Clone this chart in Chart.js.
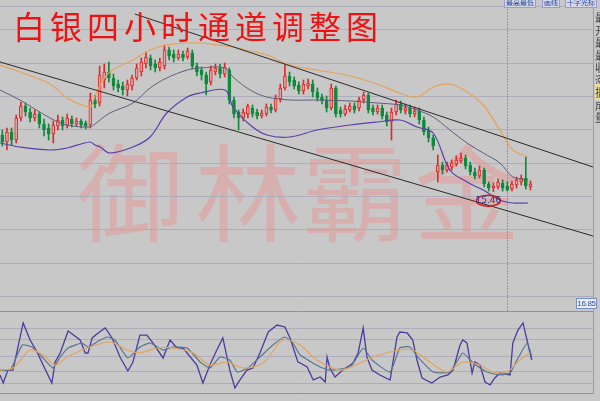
<!DOCTYPE html>
<html>
<head>
<meta charset="utf-8">
<script src="https://cdn.jsdelivr.net/npm/chart.js@4.4.1/dist/chart.umd.min.js"></script>
<style>
  body { margin: 0; background: #c8c8c8; }
  #wrap { position: relative; width: 600px; height: 401px; overflow: hidden; background: #c8c8c8; font-family: "Noto Sans CJK SC", sans-serif; }
  canvas { position: absolute; left: 0; }
  #priceChart { top: 0; z-index: 1; }
  #kdjChart { top: 305px; z-index: 1; }
  .wm { position: absolute; top: 134px; width: 106px; height: 106px; line-height: 106px; font-size: 106px; text-align: center; color: rgba(240, 130, 130, 0.36); z-index: 0; }
  #title { position: absolute; left: 13px; top: 9px; font-size: 32px; line-height: 32px; letter-spacing: 5px; color: #f01212; z-index: 2; white-space: nowrap; }
  .btn { position: absolute; top: -3px; height: 9px; font-size: 7px; line-height: 9px; color: #2a4aa0; border: 1px solid #9a9ad0; background: #d4d6e6; padding: 0 1px; z-index: 2; white-space: nowrap; }
  #priceTag { position: absolute; left: 576px; top: 298px; width: 19px; height: 9px; font-family: "Liberation Sans", sans-serif; font-size: 8px; line-height: 9px; text-align: center; color: #2850a8; background: #e8eef8; border: 1px solid #7c90c8; z-index: 2; letter-spacing: -0.3px; }
  #side { position: absolute; left: 595px; top: 11px; width: 5px; overflow: hidden; font-size: 11px; line-height: 12.5px; color: #444; z-index: 2; }
</style>
</head>
<body>
<div id="wrap">
  <span class="wm" style="left:77px">御</span>
  <span class="wm" style="left:195px">林</span>
  <span class="wm" style="left:302px">霸</span>
  <span class="wm" style="left:414px">金</span>
  <canvas id="priceChart" width="600" height="311"></canvas>
  <canvas id="kdjChart" width="600" height="96"></canvas>
  <div id="title">白银四小时通道调整图</div>
  <span class="btn" style="left:504px">最高最低</span>
  <span class="btn" style="left:542px">画线</span>
  <span class="btn" style="left:565px">十字光标</span>
  <div id="priceTag">16.85</div>
  <div id="side">最<br>开<br>最<br>最<br>收<br>涨<br><span style="background:#f0e08a">振</span><br>成<br>量</div>
</div>
<script>
// 4-hour silver candles
const candleOpen = [
  15.80, 15.758, 15.818, 15.77, 15.902, 15.974, 15.938, 15.902, 15.926, 15.866,
  15.842, 15.806, 15.854, 15.89, 15.854, 15.896, 15.866, 15.884, 15.872, 15.86,
  16.01, 15.992, 16.13, 16.178, 16.142, 16.106, 16.094, 16.07, 16.094, 16.142,
  16.178, 16.226, 16.262, 16.226, 16.202, 16.214, 16.31, 16.286, 16.262, 16.286,
  16.268, 16.292, 16.214, 16.19, 16.16, 16.118, 16.178, 16.202, 16.166, 16.19,
  16.01, 15.938, 15.902, 15.926, 15.962, 15.938, 15.914, 15.926, 15.968, 15.95,
  16.016, 16.082, 16.154, 16.13, 16.10, 16.064, 16.094, 16.106, 16.058, 16.028,
  16.01, 15.962, 16.082, 15.95, 15.926, 15.95, 15.974, 15.962, 16.01, 16.04,
  15.962, 15.938, 15.962, 15.92, 15.878, 15.938, 15.986, 15.944, 15.962, 15.926,
  15.944, 15.89, 15.83, 15.782, 15.578, 15.62, 15.59, 15.608, 15.626, 15.644,
  15.662, 15.62, 15.578, 15.554, 15.59, 15.506, 15.482, 15.488, 15.512, 15.494,
  15.476, 15.50, 15.518, 15.542, 15.488
];
const candleClose = [
  15.758, 15.818, 15.77, 15.902, 15.974, 15.938, 15.902, 15.926, 15.866, 15.83,
  15.806, 15.86, 15.89, 15.854, 15.902, 15.866, 15.884, 15.86, 15.854, 16.01,
  15.986, 16.16, 16.178, 16.142, 16.094, 16.082, 16.07, 16.106, 16.142, 16.202,
  16.238, 16.268, 16.214, 16.202, 16.238, 16.31, 16.274, 16.262, 16.286, 16.262,
  16.304, 16.214, 16.178, 16.16, 16.106, 16.19, 16.202, 16.166, 16.208, 16.01,
  15.926, 15.902, 15.938, 15.974, 15.926, 15.914, 15.932, 15.968, 15.95, 16.022,
  16.082, 16.154, 16.118, 16.094, 16.064, 16.106, 16.112, 16.058, 16.022, 16.004,
  15.962, 16.082, 15.926, 15.926, 15.956, 15.974, 15.95, 16.01, 16.04, 15.95,
  15.938, 15.962, 15.914, 15.878, 15.938, 15.986, 15.95, 15.962, 15.926, 15.944,
  15.89, 15.818, 15.782, 15.734, 15.62, 15.59, 15.62, 15.632, 15.65, 15.662,
  15.614, 15.578, 15.554, 15.59, 15.506, 15.482, 15.494, 15.518, 15.482, 15.47,
  15.506, 15.53, 15.542, 15.494, 15.506
];
const candleHigh = [
  15.83, 15.842, 15.842, 15.92, 15.998, 15.992, 15.962, 15.95, 15.938, 15.896,
  15.866, 15.884, 15.92, 15.908, 15.926, 15.914, 15.902, 15.896, 15.884, 16.052,
  16.04, 16.214, 16.226, 16.238, 16.166, 16.13, 16.118, 16.13, 16.16, 16.226,
  16.262, 16.298, 16.28, 16.25, 16.262, 16.34, 16.328, 16.31, 16.31, 16.304,
  16.322, 16.31, 16.232, 16.208, 16.178, 16.214, 16.226, 16.226, 16.232, 16.202,
  16.028, 15.95, 15.956, 15.986, 15.98, 15.956, 15.95, 15.986, 15.986, 16.04,
  16.106, 16.22, 16.178, 16.148, 16.118, 16.13, 16.136, 16.13, 16.082, 16.046,
  16.034, 16.106, 16.094, 15.968, 15.98, 15.992, 15.992, 16.028, 16.058, 16.052,
  15.98, 15.98, 15.98, 15.938, 15.962, 16.01, 16.004, 15.986, 15.98, 15.968,
  15.962, 15.908, 15.848, 15.80, 15.68, 15.638, 15.638, 15.65, 15.674, 15.692,
  15.68, 15.638, 15.602, 15.614, 15.602, 15.518, 15.512, 15.536, 15.53, 15.518,
  15.524, 15.548, 15.56, 15.668, 15.524
];
const candleLow = [
  15.734, 15.71, 15.74, 15.752, 15.884, 15.914, 15.878, 15.884, 15.842, 15.794,
  15.77, 15.752, 15.83, 15.83, 15.842, 15.848, 15.854, 15.842, 15.836, 15.842,
  15.962, 15.974, 16.082, 16.118, 16.07, 16.058, 16.04, 16.034, 16.07, 16.13,
  16.154, 16.202, 16.19, 16.178, 16.184, 16.196, 16.25, 16.238, 16.25, 16.244,
  16.256, 16.196, 16.154, 16.13, 16.04, 16.10, 16.16, 16.142, 16.148, 15.986,
  15.902, 15.83, 15.884, 15.902, 15.908, 15.896, 15.902, 15.914, 15.932, 15.938,
  15.998, 16.07, 16.094, 16.076, 16.046, 16.046, 16.076, 16.028, 16.004, 15.986,
  15.938, 15.95, 15.908, 15.908, 15.914, 15.938, 15.932, 15.944, 15.992, 15.932,
  15.92, 15.926, 15.896, 15.854, 15.77, 15.92, 15.932, 15.926, 15.908, 15.908,
  15.866, 15.80, 15.758, 15.71, 15.518, 15.566, 15.578, 15.59, 15.614, 15.632,
  15.596, 15.56, 15.536, 15.542, 15.488, 15.464, 15.46, 15.476, 15.464, 15.464,
  15.464, 15.482, 15.50, 15.476, 15.47
];

// Bollinger bands, read at these candle positions
const bandIdx = [-0.5, 3.8, 10.3, 14.0, 18.9, 20.0, 21.1, 23.2, 28.2, 31.9, 35.5, 39.9, 42.7, 48.1, 49.8,
  53.5, 57.1, 62.1, 67.9, 75.1, 80.9, 85.8, 89.5, 93.0, 96.6, 100.3, 103.8, 107.4, 110.2, 113.5];
const bandUpper = [16.22, 16.178, 16.106, 16.022, 15.968, 16.034, 16.10, 16.178, 16.25, 16.31, 16.34, 16.352, 16.352, 16.334, 16.328,
  16.304, 16.28, 16.22, 16.19, 16.154, 16.106, 16.052, 16.028, 16.088, 16.106, 16.058, 15.98, 15.83, 15.71, 15.668];
const bandMid = [16.07, 16.01, 15.902, 15.86, 15.848, 15.866, 15.89, 15.932, 15.992, 16.082, 16.142, 16.19, 16.202, 16.202, 16.148,
  16.07, 16.028, 16.01, 16.01, 16.004, 15.992, 15.98, 15.95, 15.908, 15.83, 15.752, 15.692, 15.632, 15.548, 15.53];
const bandLower = [15.752, 15.728, 15.71, 15.722, 15.758, 15.74, 15.728, 15.692, 15.728, 15.788, 15.932, 16.028, 16.052, 16.07, 15.968,
  15.86, 15.80, 15.788, 15.83, 15.86, 15.878, 15.89, 15.848, 15.812, 15.59, 15.518, 15.47, 15.41, 15.392, 15.392];

// channel trend lines
const channelUpperIdx = [28.6, 127.5];
const channelUpper = [16.526, 15.608];
const channelLowerIdx = [-0.5, 127.5];
const channelLower = [16.238, 15.194];

const priceGrid = [16.57, 16.43, 16.23, 16.03, 15.83, 15.63, 15.43, 15.23, 15.03, 14.83];
const cursorIndex = 109;

// KDJ oscillator
const jIdx = [-0.5, 0.2, 1.2, 2.3, 4.5, 6.0, 7.5, 8.8, 10.7, 11.4, 12.5, 14.2, 16.8, 17.9, 18.5, 19.4, 20.7, 22.2, 23.7, 25.4,
  27.1, 28.2, 29.7, 31.2, 32.5, 34.7, 36.2, 37.7, 39.0, 42.0, 43.3, 44.8, 46.3, 47.6, 49.1, 50.2, 51.3, 52.8, 54.1, 55.6,
  57.4, 59.3, 61.0, 62.1, 63.8, 64.3, 65.8, 67.1, 68.6, 69.7, 70.1, 70.7, 71.8, 73.5, 75.1, 75.7, 76.8, 77.9, 78.7, 79.8,
  81.5, 83.7, 85.2, 85.8, 87.4, 88.6, 89.5, 90.6, 92.7, 94.5, 96.2, 97.3, 98.8, 99.4, 100.3, 101.4, 102.0, 103.1, 104.2, 105.3,
  106.3, 107.4, 109.6, 110.2, 111.3, 112.4, 113.9, 114.3];
const jVal = [22.0, 12.2, 28.0, 28.0, 85.4, 64.6, 50.0, 34.1, 12.2, 37.8, 48.8, 75.6, 64.6, 48.8, 48.8, 67.1, 73.2, 79.3, 67.1, 43.9,
  26.8, 37.8, 70.7, 70.7, 61.0, 42.7, 64.6, 54.9, 54.9, 34.1, 12.2, 34.1, 52.4, 67.1, 28.0, 6.1, 15.9, 28.0, 30.5, 48.8,
  74.4, 82.9, 80.5, 67.1, 37.8, 36.6, 31.7, 15.9, 19.5, 13.4, 43.9, 30.5, 19.5, 28.0, 34.1, 36.6, 48.8, 79.3, 43.9, 28.0,
  22.0, 15.9, 68.3, 74.4, 73.2, 64.6, 40.2, 18.3, 12.2, 19.5, 22.0, 28.0, 58.5, 64.6, 61.0, 24.4, 37.8, 34.1, 13.4, 9.8,
  18.3, 24.4, 22.0, 61.0, 76.8, 85.4, 48.8, 40.2];
const kIdx = [-0.5, 1.7, 4.3, 6.4, 8.6, 10.9, 12.5, 14.2, 17.2, 18.5, 20.4, 22.6, 24.3, 27.1, 29.7, 31.9, 34.7, 36.8, 39.9, 42.7,
  44.8, 47.0, 49.1, 50.7, 53.0, 55.6, 58.4, 61.0, 62.7, 64.3, 68.6, 70.7, 75.1, 77.9, 79.8, 83.7, 85.8, 88.0, 89.7, 93.0,
  96.6, 99.4, 101.6, 104.6, 107.4, 109.6, 111.1, 113.3, 114.3];
const kVal = [28.0, 28.0, 58.5, 56.1, 43.9, 30.5, 43.9, 54.9, 61.0, 56.1, 62.2, 68.3, 64.6, 42.7, 56.1, 61.0, 52.4, 56.1, 54.9, 37.8,
  30.5, 43.9, 40.2, 25.6, 30.5, 43.9, 58.5, 68.3, 61.0, 46.3, 31.7, 28.0, 31.7, 54.9, 40.2, 25.6, 54.9, 56.1, 43.9, 25.6,
  25.6, 48.8, 36.6, 25.6, 22.0, 24.4, 40.2, 61.0, 43.9];
const dIdx = [-0.5, 2.3, 6.0, 8.8, 11.4, 14.0, 18.3, 23.2, 26.9, 29.7, 33.4, 36.8, 41.2, 44.8, 48.5, 52.0, 56.3, 60.6, 64.3, 67.9,
  72.9, 77.2, 80.0, 85.8, 88.6, 92.3, 96.0, 99.4, 103.1, 105.9, 108.9, 111.7, 113.9];
const dVal = [28.0, 30.5, 52.4, 46.3, 34.1, 43.9, 54.9, 62.2, 52.4, 48.8, 54.9, 54.9, 48.8, 34.1, 37.8, 30.5, 36.6, 64.6, 58.5, 40.2,
  28.0, 36.6, 43.9, 52.4, 52.4, 37.8, 25.6, 37.8, 34.1, 25.6, 25.6, 40.2, 48.8];
const kdjGrid = [0, 12, 26, 45, 65, 79, 100];

const RED = "#e02828";
const RED_FILL = "#e9a0a0";
const GREEN = "#0f8a3c";

const pts = (xs, ys) => xs.map((x, i) => ({ x: x, y: ys[i] }));
const isUp = candleClose.map((c, i) => c >= candleOpen[i]);

const lineStyle = (color, width) => ({
  type: "line", borderColor: color, borderWidth: width || 1, pointRadius: 0, fill: false
});

const markPlugin = {
  id: "marks",
  beforeDatasetsDraw(chart) {
    const { ctx, chartArea, scales } = chart;
    const x = Math.round(scales.x.getPixelForValue(cursorIndex)) + 0.5;
    ctx.save();
    ctx.strokeStyle = "#8c8cd0";
    ctx.lineWidth = 1;
    ctx.setLineDash([2, 1]);
    ctx.beginPath();
    ctx.moveTo(x, chartArea.top);
    ctx.lineTo(x, chartArea.bottom);
    ctx.stroke();
    ctx.restore();
  },
  afterDatasetsDraw(chart) {
    const { ctx, scales } = chart;
    let mi = 0;
    candleLow.forEach((v, i) => { if (v < candleLow[mi]) mi = i; });
    const cx = scales.x.getPixelForValue(mi) - 5;
    const cy = scales.y.getPixelForValue(candleLow[mi]) + 9;
    ctx.save();
    ctx.strokeStyle = "#e01818";
    ctx.lineWidth = 1.5;
    ctx.beginPath();
    ctx.ellipse(cx, cy, 12, 5.5, 0, 0, Math.PI * 2);
    ctx.stroke();
    ctx.fillStyle = "#283a90";
    ctx.font = "9px 'DejaVu Sans'";
    ctx.textAlign = "center";
    ctx.textBaseline = "middle";
    ctx.fillText(candleLow[mi].toFixed(2), cx, cy);
    ctx.restore();
  }
};

new Chart(document.getElementById("priceChart"), {
  type: "bar",
  data: {
    datasets: [
      Object.assign(lineStyle("#e6a25a", 1.2), { data: pts(bandIdx, bandUpper), tension: 0.35, order: 1 }),
      Object.assign(lineStyle("#5e5e7c"), { data: pts(bandIdx, bandMid), tension: 0.35, order: 1 }),
      Object.assign(lineStyle("#5a40a8", 1.2), { data: pts(bandIdx, bandLower), tension: 0.35, order: 1 }),
      Object.assign(lineStyle("#2a2a2a"), { data: pts(channelUpperIdx, channelUpper), order: 0 }),
      Object.assign(lineStyle("#2a2a2a"), { data: pts(channelLowerIdx, channelLower), order: 0 }),
      {
        data: candleLow.map((l, i) => ({ x: i, y: [l, candleHigh[i]] })),
        backgroundColor: isUp.map(u => u ? RED : GREEN),
        barThickness: 1, grouped: false, order: 4
      },
      {
        data: candleOpen.map((o, i) => ({ x: i, y: [o, candleClose[i]] })),
        backgroundColor: isUp.map(u => u ? RED_FILL : GREEN),
        borderColor: isUp.map(u => u ? RED : GREEN),
        borderWidth: 1, borderSkipped: false, minBarLength: 1,
        barThickness: 3, grouped: false, order: 3
      }
    ]
  },
  options: {
    responsive: false,
    animation: false,
    events: [],
    layout: { padding: { left: 0, right: 7, top: 0, bottom: 0 } },
    plugins: { legend: { display: false }, tooltip: { enabled: false } },
    scales: {
      x: { type: "linear", min: -0.5, max: 127.5, offset: false, display: false },
      y: {
        position: "right", min: 14.744, max: 16.61,
        ticks: { display: false },
        grid: { color: "#adadbb", drawTicks: false },
        border: { display: true, color: "#9898c8" },
        afterBuildTicks: s => { s.ticks = priceGrid.map(v => ({ value: v })); },
        afterFit: s => { s.width = 0; }
      }
    }
  },
  plugins: [markPlugin]
});

new Chart(document.getElementById("kdjChart"), {
  type: "line",
  data: {
    datasets: [
      Object.assign(lineStyle("#e3a458", 1.2), { data: pts(dIdx, dVal), tension: 0.3 }),
      Object.assign(lineStyle("#5a7590", 1.2), { data: pts(kIdx, kVal), tension: 0.15 }),
      Object.assign(lineStyle("#4a3c9c", 1.3), { data: pts(jIdx, jVal), tension: 0 })
    ]
  },
  options: {
    responsive: false,
    animation: false,
    events: [],
    layout: { padding: { left: 0, right: 7, top: 6, bottom: 8 } },
    plugins: { legend: { display: false }, tooltip: { enabled: false } },
    scales: {
      x: { type: "linear", min: -0.5, max: 127.5, display: false },
      y: {
        position: "right", min: 0, max: 100,
        ticks: { display: false },
        grid: {
          drawTicks: false,
          color: c => (c.tick && (c.tick.value === 0 || c.tick.value === 100)) ? "#8a8ac8" : "#adadbb"
        },
        border: { display: true, color: "#9898c8" },
        afterBuildTicks: s => { s.ticks = kdjGrid.map(v => ({ value: v })); },
        afterFit: s => { s.width = 0; }
      }
    }
  }
});
</script>
</body>
</html>
